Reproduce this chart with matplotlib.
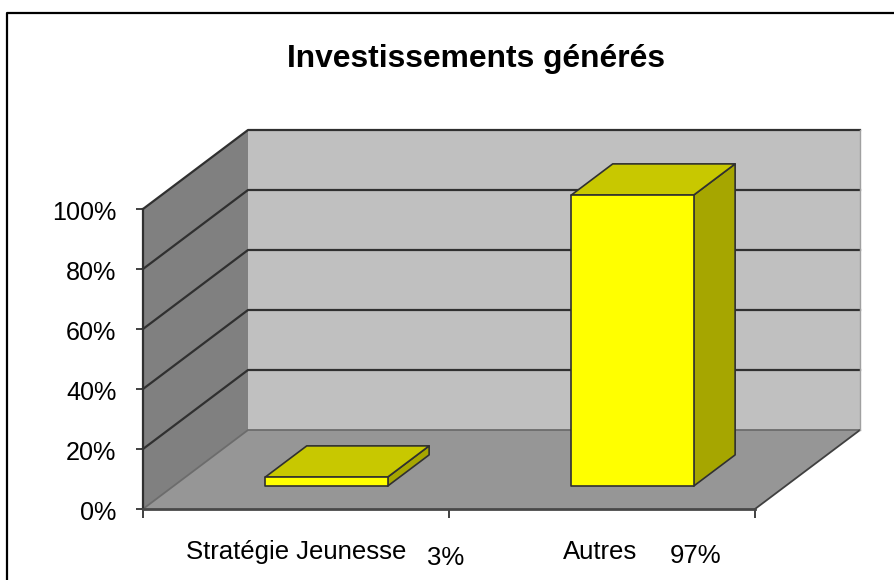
import matplotlib
matplotlib.use("Agg")
import matplotlib.pyplot as plt
from matplotlib.patches import Polygon
from matplotlib.transforms import ScaledTranslation

plt.rcParams['font.family'] = ['Liberation Sans', 'DejaVu Sans']

title = "Investissements générés"
categories = ["Stratégie Jeunesse", "Autres"]
values = [3, 97]
value_labels = ["3%", "97%"]
y_ticks = [0, 20, 40, 60, 80, 100]
y_tick_labels = ["0%", "20%", "40%", "60%", "80%", "100%"]

W, H = 894, 580
# fausse perspective : decalage du fond du graphique, en unites de donnees
DEPTH_X = 105 / 306
DEPTH_Y = 79 / 3
BAR_WIDTH = 0.4
BAR_DEPTH = 0.395
BAR_START = 0.29
EDGE = "#303030"


def project(x, y, d):
    return (x + d * DEPTH_X, y + d * DEPTH_Y)


def face(ax, pts, color, lw=1.2, edge=EDGE, z=2):
    ax.add_patch(Polygon(pts, closed=True, facecolor=color, edgecolor=edge,
                         linewidth=lw, clip_on=False, zorder=z, joinstyle="round"))


def bar3d(ax, center, value, z):
    x0 = center - BAR_WIDTH / 2
    x1 = center + BAR_WIDTH / 2
    d0 = BAR_START
    d1 = BAR_START + BAR_DEPTH
    # cote, dessus, face
    face(ax, [project(x1, 0, d0), project(x1, 0, d1), project(x1, value, d1), project(x1, value, d0)], "#a6a600", z=z)
    face(ax, [project(x0, value, d0), project(x1, value, d0), project(x1, value, d1), project(x0, value, d1)], "#c8c800", z=z)
    face(ax, [project(x0, 0, d0), project(x1, 0, d0), project(x1, value, d0), project(x0, value, d0)], "#ffff00", z=z)


fig = plt.figure(figsize=(W / 100, H / 100), dpi=100, facecolor="white")
ax = fig.add_axes([143 / W, (H - 509) / H, 612 / W, 300 / H])
ax.set_xlim(0, 2)
ax.set_ylim(0, 100)
ax.patch.set_visible(False)
for side in ["top", "right"]:
    ax.spines[side].set_visible(False)
ax.spines["left"].set_linewidth(1.6)
ax.spines["left"].set_color("#303030")
ax.spines["bottom"].set_linewidth(2.0)
ax.spines["bottom"].set_color("#484848")
ax.spines["left"].set_zorder(5)
ax.spines["bottom"].set_zorder(5)

# murs et sol
face(ax, [project(0, 0, 0), project(0, 0, 1), project(0, 100, 1), project(0, 100, 0)], "#808080", lw=0, edge="none", z=1)
face(ax, [project(0, 0, 1), project(2, 0, 1), project(2, 100, 1), project(0, 100, 1)], "#c0c0c0", lw=0, edge="none", z=1)
face(ax, [project(0, 0, 0), project(2, 0, 0), project(2, 0, 1), project(0, 0, 1)], "#969696", lw=0, edge="none", z=1)

# lignes de grille
for t in y_ticks:
    xs = [project(0, t, 0)[0], project(0, t, 1)[0], project(2, t, 1)[0]]
    ys = [project(0, t, 0)[1], project(0, t, 1)[1], project(2, t, 1)[1]]
    if t == 0:
        ax.plot(xs, ys, color="#6c6c6c", lw=1.3, clip_on=False, zorder=1.5)
    else:
        ax.plot(xs, ys, color="#303030", lw=1.6, clip_on=False, zorder=1.5)
# bord du sol a droite
ax.plot([project(2, 0, 0)[0], project(2, 0, 1)[0]], [0, project(2, 0, 1)[1]], color="#404040", lw=1.3, clip_on=False, zorder=1.5)
ax.plot([project(2, 0, 1)[0], project(2, 100, 1)[0]], [project(2, 0, 1)[1], project(2, 100, 1)[1]], color="#a0a0a0", lw=1.0, clip_on=False, zorder=1.5)

for i, v in enumerate(values):
    bar3d(ax, i + 0.5, v, 3 + i)

ax.set_yticks(y_ticks)
ax.set_yticklabels(y_tick_labels, fontsize=18.1)
ax.set_xticks([0, 1, 2])
ax.set_xticklabels([])
ax.tick_params(axis="y", length=5, width=1.2, pad=14, color="#202020")
ax.tick_params(axis="x", length=6.5, width=1.2, color="#202020")
# etiquettes un peu plus bas que les reperes
for lab in ax.get_yticklabels():
    lab.set_transform(lab.get_transform() + ScaledTranslation(0, -2 / 100, fig.dpi_scale_trans))

# cadre : seulement haut et gauche
fig.add_artist(plt.Line2D([7 / W, 7 / W, 1], [0, 1 - 13 / H, 1 - 13 / H], color="black", lw=1.6))

fig.text(476 / W, 1 - 59 / H, title, fontsize=22.9, fontweight="bold", ha="center", va="center")
label_x = [296, 600]
label_y = [552, 552]
val_x = [446, 696]
val_y = [558, 556]
for i in range(len(categories)):
    fig.text(label_x[i] / W, 1 - label_y[i] / H, categories[i], fontsize=18.5, ha="center", va="center")
    fig.text(val_x[i] / W, 1 - val_y[i] / H, value_labels[i], fontsize=18.5, ha="center", va="center")

fig.savefig("out.png", dpi=100)
